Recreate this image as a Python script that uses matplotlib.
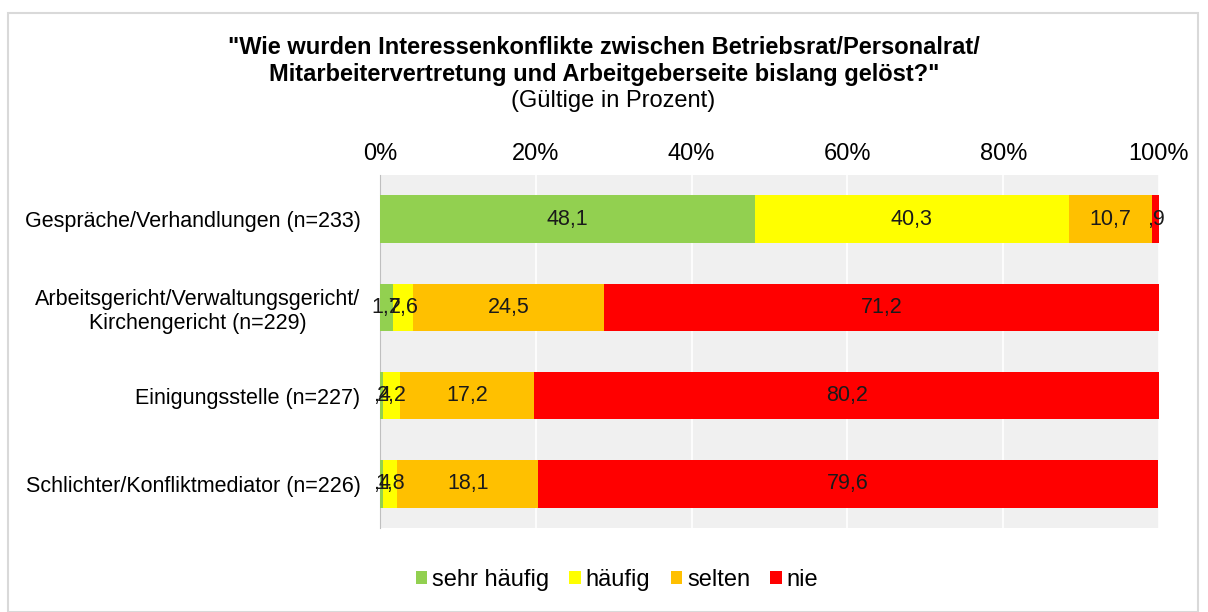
import numpy as np
import matplotlib.pyplot as plt
from matplotlib.patches import Rectangle

plt.rcParams['font.family'] = ['Liberation Sans', 'DejaVu Sans']

categories = ['Gespräche/Verhandlungen (n=233)',
              'Arbeitsgericht/Verwaltungsgericht/\nKirchengericht (n=229)',
              'Einigungsstelle (n=227)',
              'Schlichter/Konfliktmediator (n=226)']
series = ['sehr häufig', 'häufig', 'selten', 'nie']
sehr_haeufig = [48.1, 1.7, 0.4, 0.4]
haeufig = [40.3, 2.6, 2.2, 1.8]
selten = [10.7, 24.5, 17.2, 18.1]
nie = [0.9, 71.2, 80.2, 79.6]
colors = ['#92D050', '#FFFF00', '#FFC000', '#FF0000']


def fmt(v):
    s = ('%.1f' % v).replace('.', ',')
    if s.startswith('0'):
        s = s[1:]
    return s


fig = plt.figure(figsize=(12.08, 6.12), dpi=100)
fig.patches.append(Rectangle((8/1208, 0), 1190/1208, 1 - 13/612, transform=fig.transFigure,
                             fill=False, edgecolor='#d9d9d9', linewidth=1.5))
ax = fig.add_axes([380/1208, 1 - 528/612, 779/1208, (528-175)/612])
ax.set_facecolor('#f0f0f0')

y = np.arange(len(categories))
left = np.zeros(len(categories))
for name, vals, c in zip(series, [sehr_haeufig, haeufig, selten, nie], colors):
    vals = np.array(vals)
    ax.barh(y, vals, left=left, height=0.54, color=c, label=name, zorder=3)
    for yi, l, v in zip(y, left, vals):
        ax.text(l + v/2, yi, fmt(v), ha='center', va='center', fontsize=15.5, color='#1a1a1a', zorder=4)
    left += vals

ax.set_xlim(0, 100)
ax.set_ylim(3.5, -0.5)
ax.set_xticks(np.arange(0, 101, 20))
ax.set_xticklabels(['%d%%' % t for t in range(0, 101, 20)], fontsize=17)
ax.xaxis.tick_top()
ax.tick_params(axis='x', length=0, pad=7)
ax.tick_params(axis='y', length=0, pad=14)
ax.set_yticks(y)
ax.set_yticklabels(categories, fontsize=15.5, multialignment='center')
ax.grid(axis='x', color='white', linewidth=1.2, zorder=0)
for s in ['top', 'right', 'bottom']:
    ax.spines[s].set_visible(False)
ax.spines['left'].set_color('#bfbfbf')

fig.text(0.5, 1 - 47/612, '"Wie wurden Interessenkonflikte zwischen Betriebsrat/Personalrat/',
         ha='center', va='center', fontsize=17, fontweight='bold')
fig.text(0.5, 1 - 74/612, 'Mitarbeitervertretung und Arbeitgeberseite bislang gelöst?"',
         ha='center', va='center', fontsize=17, fontweight='bold')
fig.text(613/1208, 1 - 101/612, '(Gültige in Prozent)', ha='center', va='center', fontsize=17)

fig.legend(loc='center', bbox_to_anchor=(617/1208, 1 - 580/612), ncol=4, frameon=False,
           fontsize=17, handlelength=0.5, handleheight=0.5, handletextpad=0.2, columnspacing=0.85)

plt.savefig('out.png', dpi=100)
